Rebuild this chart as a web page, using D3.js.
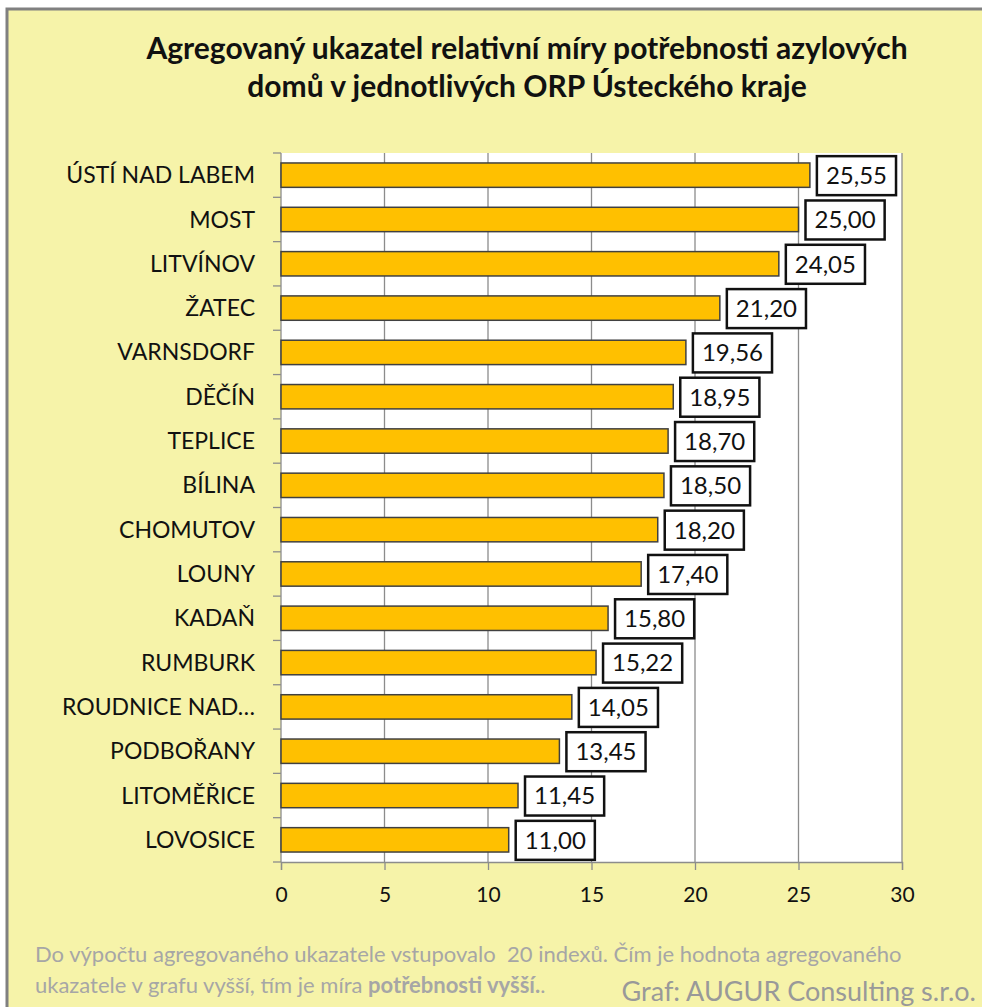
<!DOCTYPE html>
<html>
<head>
<meta charset="utf-8">
<script src="https://cdn.jsdelivr.net/npm/d3@7"></script>
<style>
  body { margin: 0; background: #fff; }
  svg { display: block; font-family: Lato, "Open Sans", sans-serif; }
  text { white-space: pre; }
</style>
</head>
<body>
<svg id="chart" width="982" height="1007"></svg>
<script>
// data
const categories = ["ÚSTÍ NAD LABEM", "MOST", "LITVÍNOV", "ŽATEC", "VARNSDORF", "DĚČÍN", "TEPLICE", "BÍLINA",
  "CHOMUTOV", "LOUNY", "KADAŇ", "RUMBURK", "ROUDNICE NAD…", "PODBOŘANY", "LITOMĚŘICE", "LOVOSICE"];
const values = [25.55, 25.00, 24.05, 21.20, 19.56, 18.95, 18.70, 18.50, 18.20, 17.40, 15.80, 15.22, 14.05, 13.45, 11.45, 11.00];
const xTicks = [0, 5, 10, 15, 20, 25, 30];
const titleLines = ["Agregovaný ukazatel relativní míry potřebnosti azylových", "domů v jednotlivých ORP Ústeckého kraje"];

let svg = d3.select('#chart');
let plot = {left: 281, right: 902, top: 153, bottom: 862};

// chart background + frame
svg.append('rect')
  .attr('x', 7).attr('y', 9)
  .attr('width', 982).attr('height', 1007)
  .attr('fill', '#f6f3a9')
  .attr('stroke', '#808080').attr('stroke-width', 3);

// title
svg.append('g').selectAll('text')
  .data(titleLines)
  .enter().append('text')
  .attr('x', 527)
  .attr('y', (d, i) => 59 + i * 38)
  .attr('text-anchor', 'middle')
  .attr('font-size', 30)
  .attr('font-weight', 'bold')
  .attr('fill', '#111')
  .text(d => d);

let x = d3.scaleLinear().domain([0, 30]).range([plot.left, plot.right]);
let y = d3.scaleBand().domain(categories).range([plot.top, plot.bottom]).paddingInner(0.45).paddingOuter(0.225);

svg.append('rect')
  .attr('x', plot.left).attr('y', plot.top)
  .attr('width', plot.right - plot.left).attr('height', plot.bottom - plot.top)
  .attr('fill', '#fff');

// vertical gridlines
svg.append('g').selectAll('line')
  .data(xTicks.slice(1))
  .enter().append('line')
  .attr('x1', d => x(d)).attr('x2', d => x(d))
  .attr('y1', plot.top).attr('y2', plot.bottom)
  .attr('stroke', '#8c8c8c').attr('stroke-width', 1.3);

// x axis
let xAxis = svg.append('g')
  .attr('transform', `translate(0,${plot.bottom})`)
  .call(d3.axisBottom(x).tickValues(xTicks).tickSize(8).tickPadding(17).tickFormat(d3.format('d')));
xAxis.select('.domain').attr('stroke', '#8c8c8c').attr('stroke-width', 1.3);
xAxis.selectAll('.tick line').attr('stroke', '#8c8c8c').attr('stroke-width', 1.3);
xAxis.selectAll('.tick text').attr('font-size', 21).attr('fill', '#111').attr('font-family', 'Lato, sans-serif');

// y axis: tick marks sit at the category boundaries
let bounds = d3.range(categories.length + 1).map(i => plot.top + i * (plot.bottom - plot.top) / categories.length);
svg.append('line')
  .attr('x1', plot.left).attr('x2', plot.left)
  .attr('y1', plot.top).attr('y2', plot.bottom)
  .attr('stroke', '#8c8c8c').attr('stroke-width', 1.3);
svg.append('g').selectAll('line')
  .data(bounds)
  .enter().append('line')
  .attr('x1', plot.left - 8).attr('x2', plot.left)
  .attr('y1', d => d).attr('y2', d => d)
  .attr('stroke', '#8c8c8c').attr('stroke-width', 1.3);

svg.append('g').selectAll('text')
  .data(categories)
  .enter().append('text')
  .attr('x', 255)
  .attr('y', d => y(d) + y.bandwidth() / 2)
  .attr('dy', '0.35em')
  .attr('text-anchor', 'end')
  .attr('font-size', 23)
  .attr('fill', '#111')
  .text(d => d);

// bars
svg.append('g').selectAll('rect')
  .data(values)
  .enter().append('rect')
  .attr('x', x(0))
  .attr('y', (d, i) => y(categories[i]))
  .attr('width', d => x(d) - x(0))
  .attr('height', y.bandwidth())
  .attr('fill', '#ffc000')
  .attr('stroke', '#404040').attr('stroke-width', 1.5);

// value labels in boxes
let fmt = v => v.toFixed(2).replace('.', ',');
let lab = svg.append('g').selectAll('g')
  .data(values)
  .enter().append('g')
  .attr('transform', (d, i) => `translate(${x(d) + 7},${y(categories[i]) + y.bandwidth() / 2})`);

lab.append('rect')
  .attr('class', 'box')
  .attr('y', -19).attr('height', 39)
  .attr('fill', '#fff')
  .attr('stroke', '#111').attr('stroke-width', 2.5);

lab.append('text')
  .attr('x', 9)
  .attr('dy', '0.37em')
  .attr('font-size', 24)
  .attr('fill', '#111')
  .text(d => fmt(d));

lab.each(function() {
  let g = d3.select(this);
  let w = g.select('text').node().getComputedTextLength();
  g.select('rect.box').attr('width', w + 18);
});

// footnote
let note = svg.append('text')
  .attr('x', 35).attr('y', 962)
  .attr('font-size', 22).attr('fill', '#a6a6a6');
note.append('tspan').text('Do výpočtu agregovaného ukazatele vstupovalo  20 indexů. Čím je hodnota agregovaného');
let note2 = svg.append('text')
  .attr('x', 35).attr('y', 993)
  .attr('font-size', 22).attr('fill', '#a6a6a6');
note2.append('tspan').text('ukazatele v grafu vyšší, tím je míra ');
note2.append('tspan').attr('font-weight', 'bold').text('potřebnosti vyšší.');
note2.append('tspan').text('.');

svg.append('text')
  .attr('x', 976).attr('y', 1001)
  .attr('text-anchor', 'end')
  .attr('font-size', 27).attr('fill', '#999')
  .text('Graf: AUGUR Consulting s.r.o.');
</script>
</body>
</html>
